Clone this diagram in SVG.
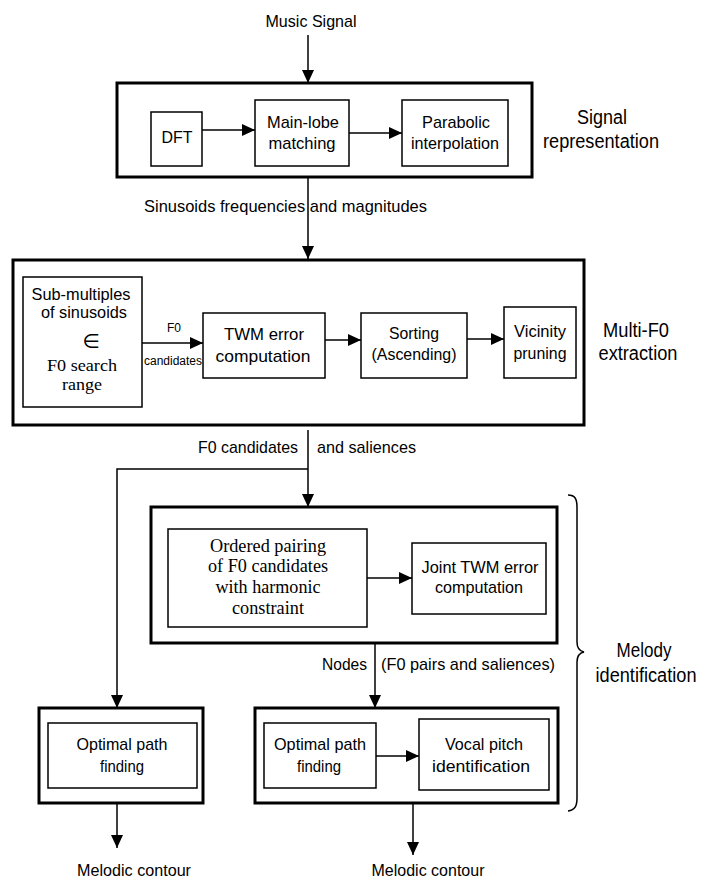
<svg xmlns="http://www.w3.org/2000/svg" width="714" height="880" viewBox="0 0 714 880">
<style>
  .bg { fill: #ffffff; }
  .outer { fill: none; stroke: #000; stroke-width: 3; }
  .inner { fill: none; stroke: #000; stroke-width: 1.5; }
  .conn { fill: none; stroke: #000; stroke-width: 1.5; }
  text { font-family: "Liberation Sans", Arial, sans-serif; fill: #000; }
  .t { font-size: 17px; text-anchor: middle; }
  .ts { font-size: 17px; }
  .side { font-size: 20px; text-anchor: middle; }
  .serif { font-family: "Liberation Serif", "Times New Roman", serif; font-size: 18px; text-anchor: middle; }
  .serif2 { font-family: "Liberation Serif", "Times New Roman", serif; font-size: 17px; text-anchor: middle; }
  .small { font-size: 12px; text-anchor: middle; }
  .sym { font-family: "DejaVu Sans", sans-serif; font-size: 20px; text-anchor: middle; }
</style>
<defs>
  <marker id="arr" markerUnits="userSpaceOnUse" markerWidth="13" markerHeight="12" refX="13" refY="6" orient="auto">
    <path d="M0,0 L13,6 L0,12 Z" fill="#000"/>
  </marker>
</defs>
<rect class="bg" x="0" y="0" width="714" height="880"/>

<g id="connectors">
  <line class="conn" x1="308" y1="35" x2="308" y2="83" marker-end="url(#arr)"/>
  <line class="conn" x1="202" y1="130" x2="255" y2="130" marker-end="url(#arr)"/>
  <line class="conn" x1="349" y1="133" x2="402" y2="133" marker-end="url(#arr)"/>
  <line class="conn" x1="308" y1="177" x2="308" y2="259" marker-end="url(#arr)"/>
  <line class="conn" x1="142" y1="343" x2="203" y2="343" marker-end="url(#arr)"/>
  <line class="conn" x1="325" y1="340" x2="361" y2="340" marker-end="url(#arr)"/>
  <line class="conn" x1="467" y1="339" x2="504" y2="339" marker-end="url(#arr)"/>
  <line class="conn" x1="308" y1="430" x2="308" y2="507" marker-end="url(#arr)"/>
  <polyline class="conn" points="308,469 117,469 117,708" marker-end="url(#arr)"/>
  <line class="conn" x1="367" y1="578" x2="412" y2="578" marker-end="url(#arr)"/>
  <line class="conn" x1="375" y1="643" x2="375" y2="708" marker-end="url(#arr)"/>
  <line class="conn" x1="376" y1="756" x2="419" y2="756" marker-end="url(#arr)"/>
  <line class="conn" x1="117" y1="803" x2="117" y2="848" marker-end="url(#arr)"/>
  <line class="conn" x1="413" y1="803" x2="413" y2="855" marker-end="url(#arr)"/>
  <path class="conn" d="M568,495 C575,495 577,499 577,507 L577,642 C577,648 579,651 584,652 C579,653 577,656 577,662 L577,798 C577,806 575,810 568,811"/>
</g>

<g id="labels">
  <text class="t" x="311" y="27" textLength="91" lengthAdjust="spacingAndGlyphs">Music Signal</text>
  <text class="ts" x="144" y="212" textLength="283" lengthAdjust="spacingAndGlyphs">Sinusoids frequencies and magnitudes</text>
  <text class="small" x="174" y="332">F0</text>
  <text class="small" x="173" y="365" textLength="58" lengthAdjust="spacingAndGlyphs">candidates</text>
  <text class="ts" x="198" y="453" textLength="100" lengthAdjust="spacingAndGlyphs">F0 candidates</text>
  <text class="ts" x="317" y="453" textLength="99" lengthAdjust="spacingAndGlyphs">and saliences</text>
  <text class="ts" x="322" y="670" textLength="45" lengthAdjust="spacingAndGlyphs">Nodes</text>
  <text class="ts" x="381" y="670" textLength="174" lengthAdjust="spacingAndGlyphs">(F0 pairs and saliences)</text>
  <text class="t" x="134" y="876" textLength="114" lengthAdjust="spacingAndGlyphs">Melodic contour</text>
  <text class="t" x="428" y="876" textLength="113" lengthAdjust="spacingAndGlyphs">Melodic contour</text>
  <text class="side" x="602" y="124" textLength="50" lengthAdjust="spacingAndGlyphs">Signal</text>
  <text class="side" x="601" y="148" textLength="116" lengthAdjust="spacingAndGlyphs">representation</text>
  <text class="side" x="636" y="337" textLength="66" lengthAdjust="spacingAndGlyphs">Multi-F0</text>
  <text class="side" x="638" y="360" textLength="79" lengthAdjust="spacingAndGlyphs">extraction</text>
  <text class="side" x="644" y="657" textLength="55" lengthAdjust="spacingAndGlyphs">Melody</text>
  <text class="side" x="646" y="682" textLength="101" lengthAdjust="spacingAndGlyphs">identification</text>
</g>

<g id="signal-representation">
  <rect class="outer" x="117" y="83" width="415" height="94"/>
</g>
<g id="dft">
  <rect class="inner" x="151" y="112" width="51" height="54"/>
  <text class="t" x="177" y="143" textLength="31" lengthAdjust="spacingAndGlyphs">DFT</text>
</g>
<g id="main-lobe">
  <rect class="inner" x="255" y="100" width="94" height="66"/>
  <text class="t" x="303" y="128" textLength="72" lengthAdjust="spacingAndGlyphs">Main-lobe</text>
  <text class="t" x="302" y="149" textLength="67" lengthAdjust="spacingAndGlyphs">matching</text>
</g>
<g id="parabolic">
  <rect class="inner" x="402" y="100" width="106" height="66"/>
  <text class="t" x="456" y="128" textLength="68" lengthAdjust="spacingAndGlyphs">Parabolic</text>
  <text class="t" x="455" y="149" textLength="88" lengthAdjust="spacingAndGlyphs">interpolation</text>
</g>

<g id="multi-f0-extraction">
  <rect class="outer" x="13" y="260" width="571" height="165"/>
</g>
<g id="sub-multiples">
  <rect class="inner" x="23" y="277" width="119" height="130"/>
  <text class="t" x="81" y="300" textLength="99" lengthAdjust="spacingAndGlyphs">Sub-multiples</text>
  <text class="t" x="84" y="318" textLength="86" lengthAdjust="spacingAndGlyphs">of sinusoids</text>
  <text class="sym" x="91" y="348">∈</text>
  <text class="serif2" x="82" y="371" textLength="70" lengthAdjust="spacingAndGlyphs">F0 search</text>
  <text class="serif2" x="82" y="390" textLength="40" lengthAdjust="spacingAndGlyphs">range</text>
</g>
<g id="twm-error">
  <rect class="inner" x="203" y="313" width="122" height="65"/>
  <text class="t" x="264" y="340" textLength="80" lengthAdjust="spacingAndGlyphs">TWM error</text>
  <text class="t" x="263" y="362" textLength="95" lengthAdjust="spacingAndGlyphs">computation</text>
</g>
<g id="sorting">
  <rect class="inner" x="361" y="313" width="106" height="65"/>
  <text class="t" x="414" y="339" textLength="50" lengthAdjust="spacingAndGlyphs">Sorting</text>
  <text class="t" x="414" y="360" textLength="85" lengthAdjust="spacingAndGlyphs">(Ascending)</text>
</g>
<g id="vicinity">
  <rect class="inner" x="504" y="307" width="72" height="71"/>
  <text class="t" x="540" y="337" textLength="52" lengthAdjust="spacingAndGlyphs">Vicinity</text>
  <text class="t" x="540" y="359" textLength="53" lengthAdjust="spacingAndGlyphs">pruning</text>
</g>

<g id="pairing-block">
  <rect class="outer" x="151" y="507" width="406" height="136"/>
</g>
<g id="ordered-pairing">
  <rect class="inner" x="168" y="529" width="199" height="98"/>
  <text class="serif" x="268" y="552" textLength="116" lengthAdjust="spacingAndGlyphs">Ordered pairing</text>
  <text class="serif" x="268" y="572" textLength="120" lengthAdjust="spacingAndGlyphs">of F0 candidates</text>
  <text class="serif" x="268" y="593" textLength="105" lengthAdjust="spacingAndGlyphs">with harmonic</text>
  <text class="serif" x="268" y="614" textLength="72" lengthAdjust="spacingAndGlyphs">constraint</text>
</g>
<g id="joint-twm">
  <rect class="inner" x="412" y="543" width="134" height="71"/>
  <text class="t" x="480" y="573" textLength="117" lengthAdjust="spacingAndGlyphs">Joint TWM error</text>
  <text class="t" x="479" y="593" textLength="88" lengthAdjust="spacingAndGlyphs">computation</text>
</g>

<g id="single-path-block">
  <rect class="outer" x="39" y="708" width="164" height="95"/>
</g>
<g id="optimal-path-1">
  <rect class="inner" x="48" y="723" width="149" height="65"/>
  <text class="t" x="122" y="750" textLength="91" lengthAdjust="spacingAndGlyphs">Optimal path</text>
  <text class="t" x="122" y="772" textLength="44" lengthAdjust="spacingAndGlyphs">finding</text>
</g>

<g id="pair-path-block">
  <rect class="outer" x="255" y="708" width="303" height="95"/>
</g>
<g id="optimal-path-2">
  <rect class="inner" x="264" y="723" width="112" height="65"/>
  <text class="t" x="320" y="750" textLength="92" lengthAdjust="spacingAndGlyphs">Optimal path</text>
  <text class="t" x="319" y="772" textLength="44" lengthAdjust="spacingAndGlyphs">finding</text>
</g>
<g id="vocal-pitch">
  <rect class="inner" x="419" y="719" width="130" height="71"/>
  <text class="t" x="484" y="750" textLength="78" lengthAdjust="spacingAndGlyphs">Vocal pitch</text>
  <text class="t" x="481" y="772" textLength="98" lengthAdjust="spacingAndGlyphs">identification</text>
</g>
</svg>
